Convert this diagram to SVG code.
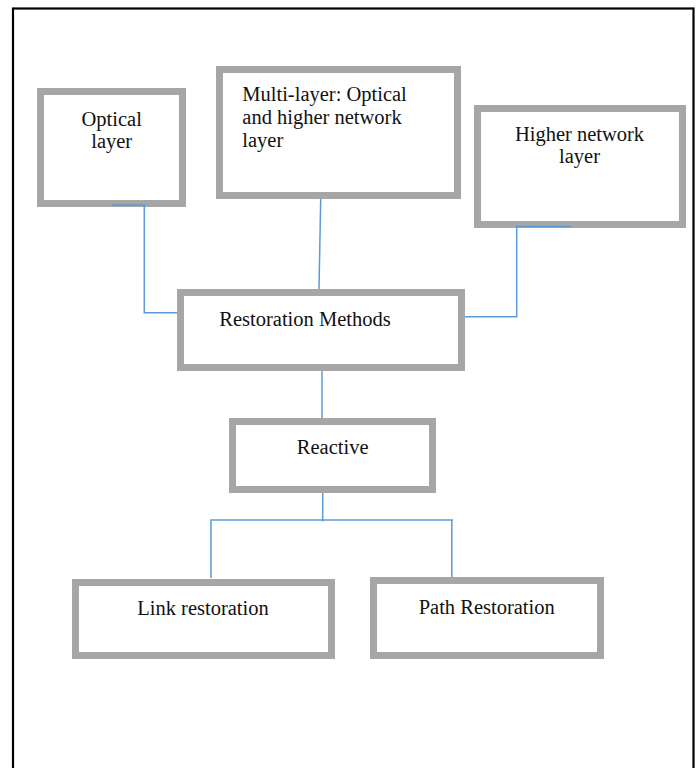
<svg xmlns="http://www.w3.org/2000/svg" width="696" height="768" viewBox="0 0 696 768">
<style>
.box{fill:#fff;stroke:#a6a6a6;stroke-width:7}
.t{font-family:"Liberation Serif","Times New Roman",serif;font-size:20.5px;fill:#111}
.c{text-anchor:middle}
.con{fill:none;stroke:#5b9bd5;stroke-width:1.5}
</style>
<rect x="0" y="0" width="696" height="768" fill="#fff"/>
<rect id="frame" x="13" y="8.5" width="680.5" height="800" fill="none" stroke="#000" stroke-width="2.2"/>
<g id="optical">
<rect class="box" x="40.5" y="91.5" width="142" height="112"/>
<text class="t c" x="111.7" y="125.5">Optical</text>
<text class="t c" x="111.7" y="148.4">layer</text>
</g>
<g id="multilayer">
<rect class="box" x="219.5" y="69.5" width="238" height="126"/>
<text class="t" x="242.3" y="101">Multi-layer: Optical</text>
<text class="t" x="242.3" y="123.9">and higher network</text>
<text class="t" x="242.3" y="146.8">layer</text>
</g>
<g id="higher">
<rect class="box" x="477.5" y="108.5" width="205" height="116"/>
<text class="t c" x="579.5" y="140.5">Higher network</text>
<text class="t c" x="579.5" y="163.4">layer</text>
</g>
<g id="restoration">
<rect class="box" x="180.5" y="292.5" width="281" height="75"/>
<text class="t" x="219.3" y="326">Restoration Methods</text>
</g>
<g id="reactive">
<rect class="box" x="232.5" y="421.5" width="200" height="68"/>
<text class="t c" x="332.7" y="454">Reactive</text>
</g>
<g id="link">
<rect class="box" x="75.5" y="582.5" width="256" height="73"/>
<text class="t c" x="203" y="615">Link restoration</text>
</g>
<g id="path">
<rect class="box" x="373.5" y="580.5" width="227" height="75"/>
<text class="t c" x="486.7" y="613.5">Path Restoration</text>
</g>
<g id="connectors">
<polyline class="con" points="111.7,205 144.3,205 144.3,312.7 177,312.7"/>
<line class="con" x1="320.7" y1="199" x2="319" y2="289"/>
<polyline class="con" points="570.7,226.5 516.7,226.5 516.7,316.7 465,316.7"/>
<line class="con" x1="322" y1="371" x2="322" y2="418"/>
<line class="con" x1="322.7" y1="493" x2="322.7" y2="521.5"/>
<polyline class="con" points="211,578 211,520 453,520"/>
<line class="con" x1="451.8" y1="520" x2="451.8" y2="577"/>
</g>
</svg>
